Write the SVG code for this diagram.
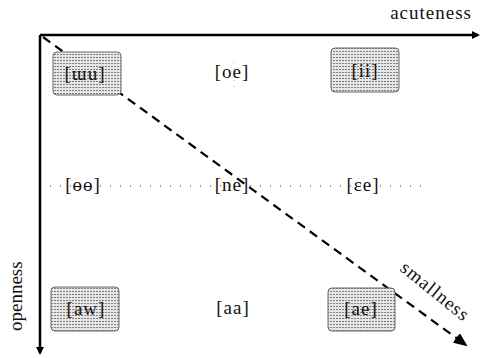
<svg xmlns="http://www.w3.org/2000/svg" width="484" height="358" viewBox="0 0 484 358">
<style>
.t{font-family:"Liberation Serif","DejaVu Serif",serif;font-size:19px;letter-spacing:1px;fill:#111;text-anchor:middle}
.ax{stroke:#000;stroke-width:2.5;fill:none}
.box{fill:url(#hatch);stroke:#666;stroke-width:1}
</style>
<defs>
<pattern id="hatch" width="3" height="3" patternUnits="userSpaceOnUse">
<rect width="3" height="3" fill="#e6e6e6"/>
<rect width="2" height="1" fill="#808080"/>
</pattern>
<marker id="ah" markerWidth="8" markerHeight="8" refX="6" refY="4" orient="auto" markerUnits="userSpaceOnUse">
<path d="M0,0 L8,4 L0,8 Z" fill="#000"/>
</marker>
<marker id="ah2" markerWidth="14" markerHeight="12" refX="12" refY="6" orient="auto" markerUnits="userSpaceOnUse">
<path d="M0,0 L14,6 L0,12 Z" fill="#000"/>
</marker>
</defs>
<g id="connectors">
<line class="ax" x1="40" y1="35" x2="478" y2="35" marker-end="url(#ah)"/>
<line class="ax" x1="40" y1="35" x2="40" y2="353" marker-end="url(#ah)"/>
<line x1="50" y1="186" x2="425" y2="186" stroke="#333" stroke-width="1" stroke-dasharray="1,9"/>
<line x1="234" y1="62" x2="234" y2="90" stroke="#999" stroke-width="0.8" stroke-dasharray="1,5"/>
<line x1="43" y1="37" x2="466" y2="345" stroke="#000" stroke-width="2.2" stroke-dasharray="9,6" marker-end="url(#ah2)"/>
</g>
<g id="axis-labels">
<text class="t" x="472" y="19" style="text-anchor:end">acuteness</text>
<text class="t" transform="translate(22,331) rotate(-90)" style="text-anchor:start;letter-spacing:0">openness</text>
<text class="t" transform="translate(399,270) rotate(39)" style="text-anchor:start">smallness</text>
</g>
<g id="n-uu"><rect class="box" x="53" y="52" width="68" height="43" rx="4"/><text class="t" x="85" y="80">[ɯu]</text></g>
<g id="n-oe"><text class="t" x="232" y="78">[oe]</text></g>
<g id="n-ii"><rect class="box" x="331" y="48" width="68" height="44" rx="4"/><text class="t" x="365" y="77">[ii]</text></g>
<g id="n-oo"><text class="t" x="83" y="191">[ɵɵ]</text></g>
<g id="n-ne"><text class="t" x="232" y="191">[ne]</text></g>
<g id="n-ee"><text class="t" x="363" y="191">[ɛe]</text></g>
<g id="n-aw"><rect class="box" x="51" y="287" width="68" height="44" rx="4"/><text class="t" x="86" y="315">[aw]</text></g>
<g id="n-aa"><text class="t" x="233" y="314">[aa]</text></g>
<g id="n-ae"><rect class="box" x="328" y="288" width="67" height="43" rx="4"/><text class="t" x="361" y="315">[ae]</text></g>
</svg>
